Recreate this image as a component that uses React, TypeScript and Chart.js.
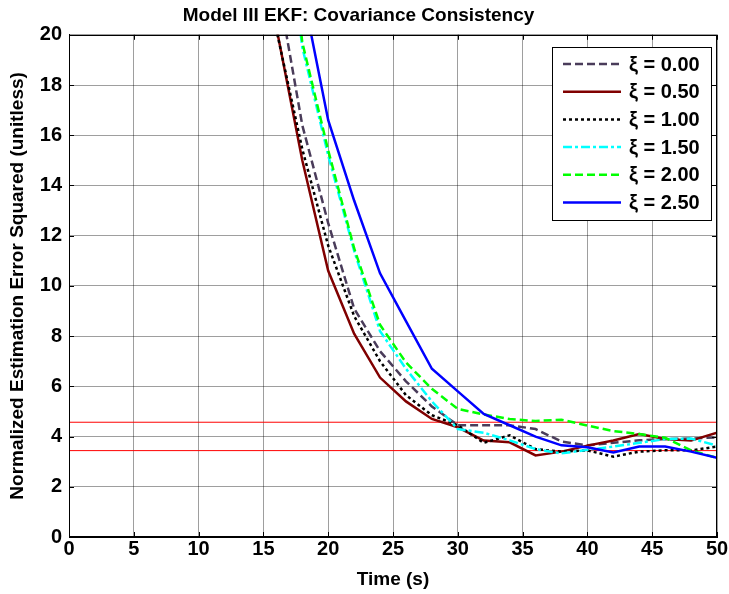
import React, { useEffect, useRef } from "react";
import { Chart, registerables } from "chart.js";

Chart.register(...registerables);

// ---- data ----
const TIMES = [14, 16, 18, 20, 22, 24, 26, 28, 30, 32, 34, 36, 38, 40, 42, 44, 46, 48, 50];
const XI_000 = [32, 22.3, 16.4, 12.5, 9.1, 7.4, 6.2, 5.2, 4.45, 4.45, 4.45, 4.3, 3.8, 3.65, 3.75, 3.85, 3.9, 3.92, 3.97];
const XI_050 = [30, 20.3, 15.0, 10.6, 8.1, 6.35, 5.4, 4.7, 4.37, 3.84, 3.77, 3.25, 3.4, 3.64, 3.84, 4.1, 3.9, 3.84, 4.15];
const XI_100 = [30, 20.2, 15.45, 11.6, 8.8, 7.0, 5.65, 4.85, 4.45, 3.75, 4.05, 3.5, 3.4, 3.45, 3.2, 3.4, 3.45, 3.45, 3.6];
const XI_150 = [40, 28, 19.5, 15.2, 11.4, 8.2, 6.7, 5.4, 4.3, 4.15, 3.85, 3.5, 3.33, 3.47, 3.6, 3.75, 3.9, 3.92, 3.64];
const XI_200 = [40, 28.5, 19.7, 15.4, 11.5, 8.45, 6.95, 5.9, 5.1, 4.88, 4.7, 4.62, 4.67, 4.44, 4.22, 4.1, 3.95, 3.45, 3.15];
const XI_250 = [42, 30, 21.8, 16.6, 13.4, 10.5, 8.6, 6.7, 5.8, 4.9, 4.45, 4.0, 3.65, 3.57, 3.37, 3.6, 3.6, 3.4, 3.15];
const SERIES_LABELS = ["ξ = 0.00", "ξ = 0.50", "ξ = 1.00", "ξ = 1.50", "ξ = 2.00", "ξ = 2.50"];
const BOUND_TIMES = [0, 50];
const UPPER_BOUND = [4.57, 4.57];
const LOWER_BOUND = [3.44, 3.44];
const X_RANGE = [0, 50];
const X_STEP = 5;
const Y_RANGE = [0, 20];
const Y_STEP = 2;
const TITLE = "Model III EKF: Covariance Consistency";
const X_TITLE = "Time (s)";
const Y_TITLE = "Normalized Estimation Error Squared (unitless)";

const FONT_FAMILY = "'Liberation Sans', Arial, Helvetica, sans-serif";

const STYLES = [
  { color: "#4a3c5a", dash: [8, 4] },
  { color: "#800000", dash: [] },
  { color: "#000000", dash: [3, 3] },
  { color: "#00ffff", dash: [9, 3, 3, 3] },
  { color: "#00ff00", dash: [8, 4] },
  { color: "#0000ff", dash: [] },
];

const SERIES = [XI_000, XI_050, XI_100, XI_150, XI_200, XI_250];

const framePlugin = {
  id: "matlabFrame",
  afterDraw(chart: any) {
    const { ctx, chartArea } = chart;
    const { left, right, top, bottom } = chartArea;
    ctx.save();
    ctx.strokeStyle = "#000";
    ctx.lineWidth = 1;
    ctx.strokeRect(Math.round(left) + 0.5, Math.round(top) + 0.5, Math.round(right - left) - 1, Math.round(bottom - top) - 1);
    // inner tick marks
    const xs = chart.scales.x;
    const ys = chart.scales.y;
    const tl = 5;
    ctx.beginPath();
    xs.ticks.forEach((t: any) => {
      const px = Math.round(xs.getPixelForValue(t.value)) + 0.5;
      ctx.moveTo(px, bottom);
      ctx.lineTo(px, bottom - tl);
      ctx.moveTo(px, top);
      ctx.lineTo(px, top + tl);
    });
    ys.ticks.forEach((t: any) => {
      const py = Math.round(ys.getPixelForValue(t.value)) + 0.5;
      ctx.moveTo(left, py);
      ctx.lineTo(left + tl, py);
      ctx.moveTo(right, py);
      ctx.lineTo(right - tl, py);
    });
    ctx.stroke();

    // legend
    const items = chart.data.datasets.filter((d: any) => d.inLegend);
    const lw = 159;
    const lh = 173;
    const lx = Math.round(right - 6 - lw);
    const ly = Math.round(top + 12);
    ctx.fillStyle = "#fff";
    ctx.fillRect(lx, ly, lw, lh);
    ctx.strokeStyle = "#000";
    ctx.setLineDash([]);
    ctx.strokeRect(lx + 0.5, ly + 0.5, lw, lh);
    ctx.font = `bold 20px ${FONT_FAMILY}`;
    ctx.textBaseline = "middle";
    ctx.textAlign = "left";
    items.forEach((d: any, i: number) => {
      const y = ly + 17 + i * 27.7;
      ctx.beginPath();
      ctx.strokeStyle = d.borderColor;
      ctx.lineWidth = d.borderWidth;
      ctx.setLineDash(d.borderDash || []);
      ctx.moveTo(lx + 11, y);
      ctx.lineTo(lx + 69, y);
      ctx.stroke();
      ctx.fillStyle = "#000";
      ctx.fillText(d.label, lx + 77, y + 1);
    });
    ctx.restore();
  },
};

export default function App() {
  const canvasRef = useRef<HTMLCanvasElement | null>(null);

  useEffect(() => {
    document.body.style.margin = "0";
    const canvas = canvasRef.current;
    if (!canvas) return;

    const dataSets: any[] = SERIES.map((vals, i) => ({
      label: SERIES_LABELS[i],
      data: TIMES.map((t, j) => ({ x: t, y: vals[j] })),
      borderColor: STYLES[i].color,
      backgroundColor: STYLES[i].color,
      borderDash: STYLES[i].dash,
      borderWidth: 2.5,
      pointRadius: 0,
      tension: 0,
      fill: false,
      clip: 0,
      order: 10 - i,
      inLegend: true,
    }));
    dataSets.push(
      {
        label: "upper bound",
        data: BOUND_TIMES.map((t, j) => ({ x: t, y: UPPER_BOUND[j] })),
        borderColor: "#ff0000",
        borderWidth: 1,
        pointRadius: 0,
        fill: false,
        clip: 0,
        order: 20,
        inLegend: false,
      },
      {
        label: "lower bound",
        data: BOUND_TIMES.map((t, j) => ({ x: t, y: LOWER_BOUND[j] })),
        borderColor: "#ff0000",
        borderWidth: 1,
        pointRadius: 0,
        fill: false,
        clip: 0,
        order: 21,
        inLegend: false,
      }
    );

    const chart = new Chart(canvas, {
      type: "line",
      data: { datasets: dataSets },
      plugins: [framePlugin],
      options: {
        responsive: false,
        animation: false,
        devicePixelRatio: 1,
        layout: { padding: { left: 0, right: 12, top: 0, bottom: 0 } },
        plugins: {
          legend: { display: false },
          tooltip: { enabled: false },
          title: {
            display: true,
            text: TITLE,
            color: "#000",
            font: { family: FONT_FAMILY, size: 19, weight: "bold" },
            padding: { top: 4, bottom: 8 },
          },
        },
        scales: {
          x: {
            type: "linear",
            min: X_RANGE[0],
            max: X_RANGE[1],
            ticks: {
              stepSize: X_STEP,
              color: "#000",
              padding: 0,
              maxRotation: 0,
              font: { family: FONT_FAMILY, size: 20, weight: "bold" },
            },
            grid: { color: "rgba(0,0,0,0.38)", drawTicks: false, lineWidth: 1 },
            border: { display: true, color: "#000" },
            title: {
              display: true,
              text: X_TITLE,
              color: "#000",
              font: { family: FONT_FAMILY, size: 19, weight: "bold" },
              padding: { top: 0, bottom: 2.5 },
            },
            afterFit: (s: any) => {
              s.height = 57;
            },
          },
          y: {
            type: "linear",
            min: Y_RANGE[0],
            max: Y_RANGE[1],
            ticks: {
              stepSize: Y_STEP,
              color: "#000",
              padding: 7,
              font: { family: FONT_FAMILY, size: 20, weight: "bold" },
            },
            grid: { color: "rgba(0,0,0,0.38)", drawTicks: false, lineWidth: 1 },
            border: { display: true, color: "#000" },
            title: {
              display: true,
              text: Y_TITLE,
              color: "#000",
              font: { family: FONT_FAMILY, size: 19, weight: "bold" },
              padding: { top: 6.5, bottom: 0 },
            },
            afterFit: (s: any) => {
              s.width = 69;
            },
          },
        },
      } as any,
    });

    return () => chart.destroy();
  }, []);

  return (
    <div style={{ width: 729, height: 594, background: "#fff" }}>
      <canvas ref={canvasRef} width={729} height={594} style={{ display: "block" }} />
    </div>
  );
}
